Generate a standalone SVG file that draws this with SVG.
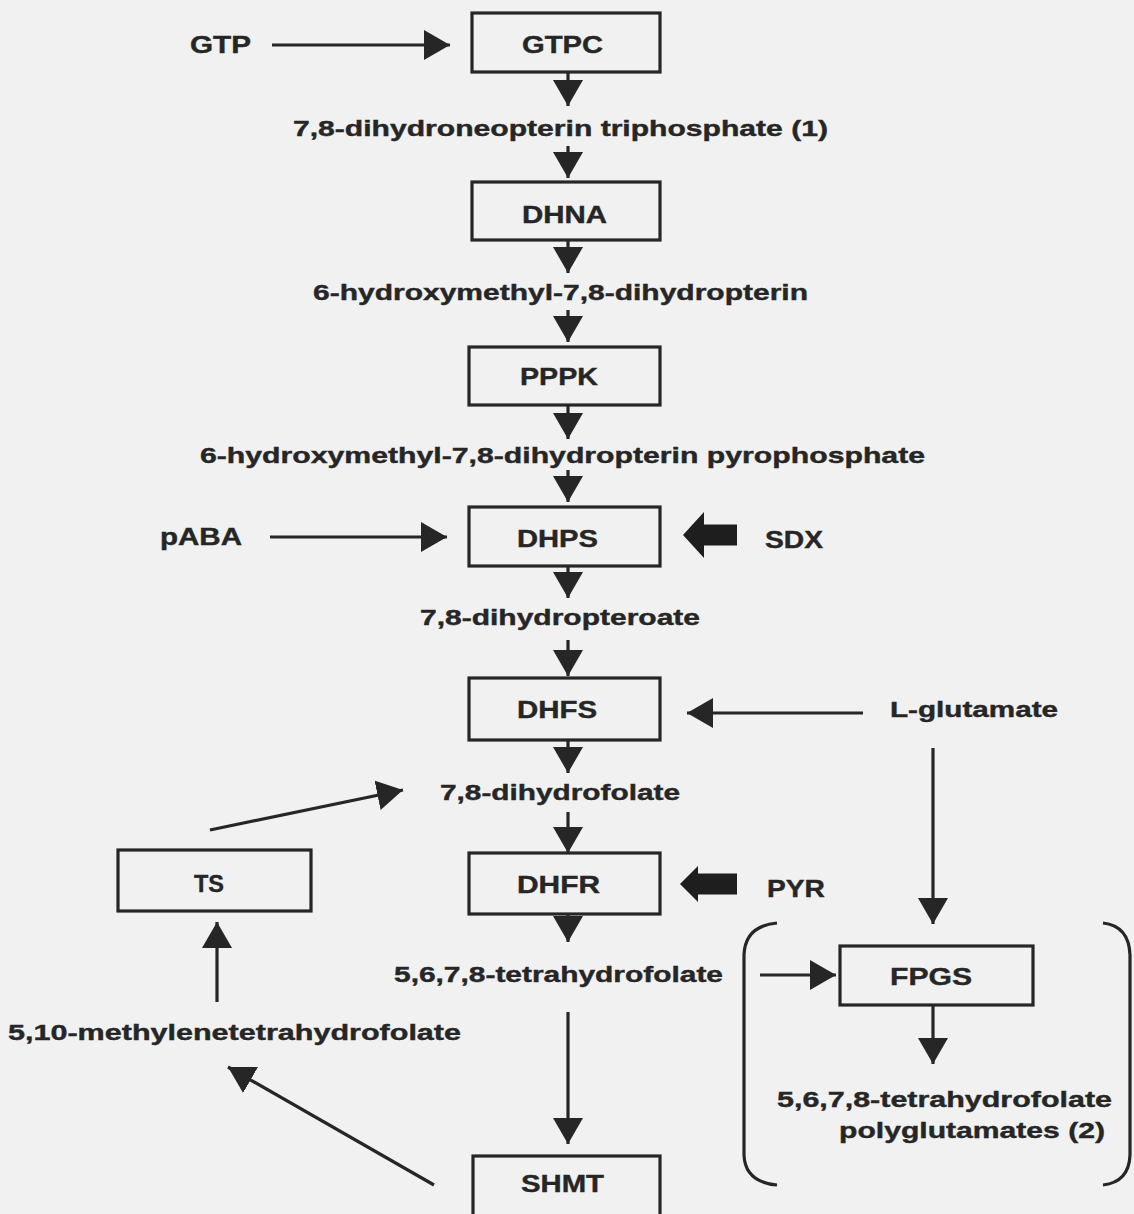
<svg xmlns="http://www.w3.org/2000/svg" width="1134" height="1214" viewBox="0 0 1134 1214">
<style>
.bg{fill:#f1f1f1}
.box{fill:none;stroke:#262626;stroke-width:3.2}
.lbl{font-family:"Liberation Sans",Arial,sans-serif;font-weight:bold;font-size:24px;fill:#262626;stroke:#262626;stroke-width:0.4}
.cmp{font-family:"Liberation Sans",Arial,sans-serif;font-weight:bold;font-size:22px;fill:#262626;stroke:#262626;stroke-width:0.4}
.ln{fill:none;stroke:#262626;stroke-width:3.2;marker-end:url(#ah)}
.thick{fill:#1e1e1e}
.br{fill:none;stroke:#262626;stroke-width:3.2}
</style>
<defs>
<marker id="ah" markerUnits="userSpaceOnUse" markerWidth="28" markerHeight="30" refX="26" refY="15" orient="auto">
<path d="M0,0 L26,15 L0,30 z" fill="#262626"/>
</marker>
</defs>
<rect class="bg" x="0" y="0" width="1134" height="1214"/>

<g id="connectors">
<line class="ln" x1="272" y1="45" x2="450" y2="45"/>
<line class="ln" x1="568" y1="72" x2="568" y2="106"/>
<line class="ln" x1="568" y1="146" x2="568" y2="178"/>
<line class="ln" x1="568" y1="240" x2="568" y2="273"/>
<line class="ln" x1="568" y1="310" x2="568" y2="342"/>
<line class="ln" x1="568" y1="405" x2="568" y2="439"/>
<line class="ln" x1="568" y1="470" x2="568" y2="502"/>
<line class="ln" x1="270" y1="537" x2="447" y2="537"/>
<polygon class="thick" points="683,535 704,512 704,524.5 737,524.5 737,545.5 704,545.5 704,558"/>
<line class="ln" x1="568" y1="566" x2="568" y2="598"/>
<line class="ln" x1="568" y1="640" x2="568" y2="676"/>
<line class="ln" x1="863" y1="713" x2="687" y2="713"/>
<line class="ln" x1="933" y1="748" x2="933" y2="924"/>
<line class="ln" x1="568" y1="740" x2="568" y2="773"/>
<line class="ln" x1="210" y1="830" x2="403" y2="790"/>
<line class="ln" x1="568" y1="812" x2="568" y2="853"/>
<polygon class="thick" points="680,884 698,866 698,873.5 737,873.5 737,894.5 698,894.5 698,902"/>
<line class="ln" x1="568" y1="914" x2="568" y2="942"/>
<line class="ln" x1="760" y1="975" x2="836" y2="975"/>
<line class="ln" x1="933" y1="1006" x2="933" y2="1064"/>
<line class="ln" x1="217" y1="1002" x2="217" y2="922"/>
<line class="ln" x1="568" y1="1012" x2="568" y2="1144"/>
<line class="ln" x1="434" y1="1185" x2="228" y2="1067"/>
</g>

<g id="bracket">
<path class="br" d="M777,923 Q745,926 744,955 L744,1155 Q745,1182 777,1185"/>
<path class="br" d="M1103,923 Q1129,926 1130,955 L1130,1155 Q1129,1182 1103,1185"/>
</g>

<g id="GTP"><text class="lbl" x="190" y="53" textLength="61" lengthAdjust="spacingAndGlyphs">GTP</text></g>
<g id="GTPC"><rect class="box" x="472" y="13" width="188" height="59"/><text class="lbl" x="522" y="53" textLength="81" lengthAdjust="spacingAndGlyphs">GTPC</text></g>
<g id="c1"><text class="cmp" x="293" y="136" textLength="535" lengthAdjust="spacingAndGlyphs">7,8-dihydroneopterin triphosphate (1)</text></g>
<g id="DHNA"><rect class="box" x="472" y="182" width="188" height="58"/><text class="lbl" x="522" y="223" textLength="85" lengthAdjust="spacingAndGlyphs">DHNA</text></g>
<g id="c2"><text class="cmp" x="313" y="300" textLength="495" lengthAdjust="spacingAndGlyphs">6-hydroxymethyl-7,8-dihydropterin</text></g>
<g id="PPPK"><rect class="box" x="469" y="347" width="191" height="58"/><text class="lbl" x="520" y="385" textLength="78" lengthAdjust="spacingAndGlyphs">PPPK</text></g>
<g id="c3"><text class="cmp" x="200" y="463" textLength="725" lengthAdjust="spacingAndGlyphs">6-hydroxymethyl-7,8-dihydropterin pyrophosphate</text></g>
<g id="pABA"><text class="lbl" x="160" y="545" textLength="82" lengthAdjust="spacingAndGlyphs">pABA</text></g>
<g id="DHPS"><rect class="box" x="469" y="507" width="191" height="59"/><text class="lbl" x="517" y="547" textLength="81" lengthAdjust="spacingAndGlyphs">DHPS</text></g>
<g id="SDX"><text class="lbl" x="765" y="548" textLength="58" lengthAdjust="spacingAndGlyphs">SDX</text></g>
<g id="c4"><text class="cmp" x="420" y="625" textLength="280" lengthAdjust="spacingAndGlyphs">7,8-dihydropteroate</text></g>
<g id="DHFS"><rect class="box" x="469" y="678" width="191" height="62"/><text class="lbl" x="517" y="718" textLength="80" lengthAdjust="spacingAndGlyphs">DHFS</text></g>
<g id="Lglu"><text class="cmp" x="890" y="717" textLength="168" lengthAdjust="spacingAndGlyphs">L-glutamate</text></g>
<g id="c5"><text class="cmp" x="440" y="800" textLength="240" lengthAdjust="spacingAndGlyphs">7,8-dihydrofolate</text></g>
<g id="TS"><rect class="box" x="118" y="850" width="193" height="61"/><text class="lbl" x="194" y="892" textLength="30" lengthAdjust="spacingAndGlyphs">TS</text></g>
<g id="DHFR"><rect class="box" x="469" y="853" width="191" height="61"/><text class="lbl" x="517" y="893" textLength="83" lengthAdjust="spacingAndGlyphs">DHFR</text></g>
<g id="PYR"><text class="lbl" x="767" y="897" textLength="58" lengthAdjust="spacingAndGlyphs">PYR</text></g>
<g id="c6"><text class="cmp" x="394" y="982" textLength="329" lengthAdjust="spacingAndGlyphs">5,6,7,8-tetrahydrofolate</text></g>
<g id="FPGS"><rect class="box" x="840" y="946" width="193" height="59"/><text class="lbl" x="890" y="985" textLength="82" lengthAdjust="spacingAndGlyphs">FPGS</text></g>
<g id="c7"><text class="cmp" x="8" y="1040" textLength="453" lengthAdjust="spacingAndGlyphs">5,10-methylenetetrahydrofolate</text></g>
<g id="c8"><text class="cmp" x="777" y="1107" textLength="335" lengthAdjust="spacingAndGlyphs">5,6,7,8-tetrahydrofolate</text><text class="cmp" x="839" y="1138" textLength="266" lengthAdjust="spacingAndGlyphs">polyglutamates (2)</text></g>
<g id="SHMT"><rect class="box" x="473" y="1156" width="187" height="70"/><text class="lbl" x="521" y="1192" textLength="83" lengthAdjust="spacingAndGlyphs">SHMT</text></g>
</svg>
